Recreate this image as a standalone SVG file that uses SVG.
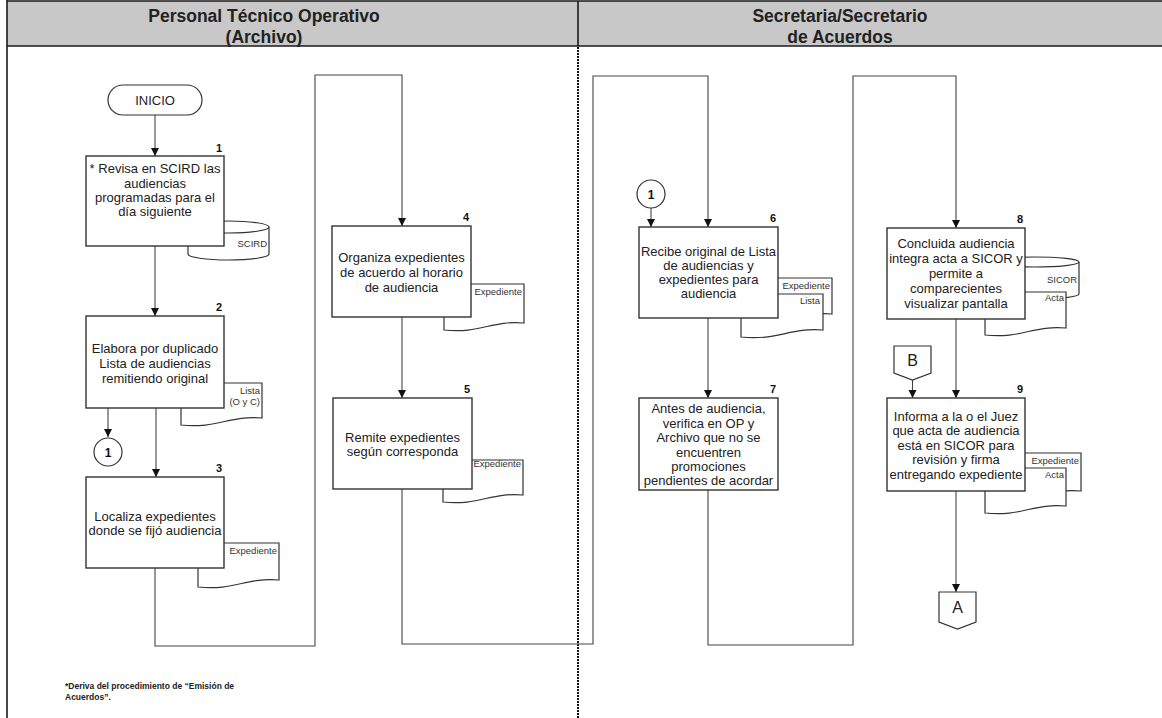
<svg xmlns="http://www.w3.org/2000/svg" width="1162" height="718" viewBox="0 0 1162 718">
  <defs>
    <marker id="arrow" viewBox="0 0 10 10" refX="10" refY="5" markerWidth="8" markerHeight="9" markerUnits="userSpaceOnUse" orient="auto">
      <path d="M0,0 L10,5 L0,10 Z" fill="#111"/>
    </marker>
    <style>
      .lane-head { fill: #c8c8c8; }
      .frame { stroke: #1a1a1a; stroke-width: 1.6; fill: none; }
      .sep { stroke: #111; stroke-width: 2; stroke-dasharray: 2 1; fill: none; }
      .head { font-family: "Liberation Sans", Arial, sans-serif; font-size: 17.5px; font-weight: bold; fill: #222; text-anchor: middle; }
      .box { fill: #fff; stroke: #333; stroke-width: 1.4; }
      .shape { fill: #fff; stroke: #333; stroke-width: 1.2; }
      .txt { font-family: "Liberation Sans", Arial, sans-serif; font-size: 13px; fill: #222; text-anchor: middle; }
      .num { font-family: "Liberation Sans", Arial, sans-serif; font-size: 11px; font-weight: bold; fill: #111; text-anchor: middle; }
      .small { font-family: "Liberation Sans", Arial, sans-serif; font-size: 9.5px; fill: #333; text-anchor: end; }
      .conn { fill: none; stroke: #444; stroke-width: 1.1; }
      .note { font-family: "Liberation Sans", Arial, sans-serif; font-size: 8.5px; font-weight: bold; fill: #222; }
    </style>
  </defs>

  <rect width="1162" height="718" fill="#fff"/>

  <!-- swimlane frame -->
  <g id="lanes">
    <rect class="lane-head" x="7" y="1" width="1155" height="45"/>
    <line class="frame" x1="7" y1="1" x2="1162" y2="1"/>
    <line class="frame" x1="7" y1="46" x2="1162" y2="46"/>
    <line class="frame" x1="7" y1="0" x2="7" y2="718"/>
    <line class="frame" x1="578" y1="1" x2="578" y2="46"/>
    <line class="sep" x1="578" y1="47" x2="578" y2="718"/>
    <text class="head" x="264" y="22">Personal Técnico Operativo</text>
    <text class="head" x="264" y="43">(Archivo)</text>
    <text class="head" x="840" y="22">Secretaria/Secretario</text>
    <text class="head" x="840" y="43">de Acuerdos</text>
  </g>

  <!-- connectors -->
  <g id="connectors">
    <path class="conn" d="M155,115 V156" marker-end="url(#arrow)"/>
    <path class="conn" d="M155,246 V316" marker-end="url(#arrow)"/>
    <path class="conn" d="M108,408 V437" marker-end="url(#arrow)"/>
    <path class="conn" d="M156,408 V477" marker-end="url(#arrow)"/>
    <path class="conn" d="M155,568 V646 H315 V75 H402 V226" marker-end="url(#arrow)"/>
    <path class="conn" d="M402,317 V398" marker-end="url(#arrow)"/>
    <path class="conn" d="M402,489 V644 H593 V76 H708 V227" marker-end="url(#arrow)"/>
    <path class="conn" d="M651,208 V227" marker-end="url(#arrow)"/>
    <path class="conn" d="M708,318 V398" marker-end="url(#arrow)"/>
    <path class="conn" d="M708,490 V645 H853 V76 H956 V228" marker-end="url(#arrow)"/>
    <path class="conn" d="M956,319 V398" marker-end="url(#arrow)"/>
    <path class="conn" d="M912.5,380 V398" marker-end="url(#arrow)"/>
    <path class="conn" d="M956,491 V592" marker-end="url(#arrow)"/>
  </g>

  <!-- start -->
  <g id="inicio">
    <rect class="shape" x="108" y="85" width="94" height="30" rx="15" ry="15"/>
    <text class="txt" x="155" y="105">INICIO</text>
  </g>

  <!-- step 1 -->
  <g id="step1">
    <path class="shape" d="M188,227 A40.5,6 0 0 1 269,227 V254 A40.5,6 0 0 1 188,254 Z"/>
    <path class="shape" d="M188,227 A40.5,6 0 0 0 269,227"/>
    <text class="small" x="267" y="247">SCIRD</text>
    <rect class="box" x="86" y="156" width="138" height="90"/>
    <text class="num" x="219" y="152">1</text>
    <text class="txt" x="155" y="173">* Revisa en SCIRD las</text>
    <text class="txt" x="155" y="188">audiencias</text>
    <text class="txt" x="155" y="202">programadas para el</text>
    <text class="txt" x="155" y="216">día siguiente</text>
  </g>

  <!-- step 2 -->
  <g id="step2">
    <path class="shape" d="M181,383 H262 V418 C229.6,415 217.5,429 181,425 Z"/>
    <text class="small" x="260" y="394">Lista</text>
    <text class="small" x="260" y="405">(O y C)</text>
    <rect class="box" x="86" y="316" width="138" height="92"/>
    <text class="num" x="219" y="311">2</text>
    <text class="txt" x="155" y="353">Elabora por duplicado</text>
    <text class="txt" x="155" y="368">Lista de audiencias</text>
    <text class="txt" x="155" y="383">remitiendo original</text>
  </g>

  <!-- on-page connector 1 (left lane) -->
  <g id="ref1-out">
    <circle class="shape" cx="108" cy="452" r="14"/>
    <text class="num" x="108" y="456.5" style="font-size:12px">1</text>
  </g>

  <!-- step 3 -->
  <g id="step3">
    <path class="shape" d="M198,543 H279 V580 C246.6,577 234.5,591 198,587 Z"/>
    <text class="small" x="277" y="554">Expediente</text>
    <rect class="box" x="86" y="477" width="138" height="91"/>
    <text class="num" x="219" y="472">3</text>
    <text class="txt" x="155" y="521">Localiza expedientes</text>
    <text class="txt" x="155" y="535">donde se fijó audiencia</text>
  </g>

  <!-- step 4 -->
  <g id="step4">
    <path class="shape" d="M444,284 H524 V323 C492,320 480,334 444,330 Z"/>
    <text class="small" x="522" y="295">Expediente</text>
    <rect class="box" x="332" y="226" width="139" height="91"/>
    <text class="num" x="466" y="221">4</text>
    <text class="txt" x="401.5" y="262">Organiza expedientes</text>
    <text class="txt" x="401.5" y="277">de acuerdo al horario</text>
    <text class="txt" x="401.5" y="292">de audiencia</text>
  </g>

  <!-- step 5 -->
  <g id="step5">
    <path class="shape" d="M443,460 H523 V495 C491,492 479,506 443,502 Z"/>
    <text class="small" x="521" y="467">Expediente</text>
    <rect class="box" x="333" y="398" width="139" height="91"/>
    <text class="num" x="467" y="393">5</text>
    <text class="txt" x="402.5" y="442">Remite expedientes</text>
    <text class="txt" x="402.5" y="456">según corresponda</text>
  </g>

  <!-- on-page connector 1 (right lane) -->
  <g id="ref1-in">
    <circle class="shape" cx="651" cy="194" r="14"/>
    <text class="num" x="651" y="198.5" style="font-size:12px">1</text>
  </g>

  <!-- step 6 -->
  <g id="step6">
    <path class="shape" d="M750,278 H832 V314 C799,311 787,325 750,321 Z"/>
    <text class="small" x="830" y="289">Expediente</text>
    <path class="shape" d="M741,294 H823 V330 C790,327 778,341 741,337 Z"/>
    <text class="small" x="820" y="304">Lista</text>
    <rect class="box" x="639" y="227" width="139" height="91"/>
    <text class="num" x="773" y="222">6</text>
    <text class="txt" x="708.5" y="256">Recibe original de Lista</text>
    <text class="txt" x="708.5" y="270">de audiencias y</text>
    <text class="txt" x="708.5" y="284">expedientes para</text>
    <text class="txt" x="708.5" y="298">audiencia</text>
  </g>

  <!-- step 7 -->
  <g id="step7">
    <rect class="box" x="639" y="398" width="139" height="92"/>
    <text class="num" x="773" y="393">7</text>
    <text class="txt" x="708.5" y="413">Antes de audiencia,</text>
    <text class="txt" x="708.5" y="427.5">verifica en OP y</text>
    <text class="txt" x="708.5" y="442">Archivo que no se</text>
    <text class="txt" x="708.5" y="456.5">encuentren</text>
    <text class="txt" x="708.5" y="471">promociones</text>
    <text class="txt" x="708.5" y="485">pendientes de acordar</text>
  </g>

  <!-- step 8 -->
  <g id="step8">
    <path class="shape" d="M990,262 A44.5,5 0 0 1 1079,262 V294 A44.5,5 0 0 1 990,294 Z"/>
    <path class="shape" d="M990,262 A44.5,5 0 0 0 1079,262"/>
    <text class="small" x="1077" y="283">SICOR</text>
    <path class="shape" d="M985,292 H1066 V328 C1033.6,325 1021.5,339 985,335 Z"/>
    <text class="small" x="1064" y="301">Acta</text>
    <rect class="box" x="887" y="228" width="138" height="91"/>
    <text class="num" x="1020" y="223">8</text>
    <text class="txt" x="956" y="248">Concluida audiencia</text>
    <text class="txt" x="956" y="263">integra acta a SICOR y</text>
    <text class="txt" x="956" y="278">permite a</text>
    <text class="txt" x="956" y="293">comparecientes</text>
    <text class="txt" x="956" y="308">visualizar pantalla</text>
  </g>

  <!-- off-page connector B -->
  <g id="offpage-b">
    <path class="shape" d="M894,346 H931 V373 L912.5,380 L894,373 Z"/>
    <text class="txt" x="912.5" y="366" style="font-size:16px">B</text>
  </g>

  <!-- step 9 -->
  <g id="step9">
    <path class="shape" d="M1000,453 H1081 V491 C1048.6,488 1036.5,502 1000,498 Z"/>
    <text class="small" x="1079" y="464">Expediente</text>
    <path class="shape" d="M985,468 H1066 V506 C1033.6,503 1021.5,517 985,513 Z"/>
    <text class="small" x="1064" y="478">Acta</text>
    <rect class="box" x="887" y="398" width="138" height="93"/>
    <text class="num" x="1020" y="393">9</text>
    <text class="txt" x="956" y="421">Informa a la o el Juez</text>
    <text class="txt" x="956" y="435">que acta de audiencia</text>
    <text class="txt" x="956" y="450">está en SICOR para</text>
    <text class="txt" x="956" y="464">revisión y firma</text>
    <text class="txt" x="956" y="479">entregando expediente</text>
  </g>

  <!-- off-page connector A -->
  <g id="offpage-a">
    <path class="shape" d="M939,592 H976 V622 L957.5,629 L939,622 Z"/>
    <text class="txt" x="957.5" y="613" style="font-size:16px">A</text>
  </g>

  <!-- footnote -->
  <g id="footnote">
    <text class="note" x="65" y="689">*Deriva del procedimiento de “Emisión de</text>
    <text class="note" x="65" y="700">Acuerdos”.</text>
  </g>
</svg>
